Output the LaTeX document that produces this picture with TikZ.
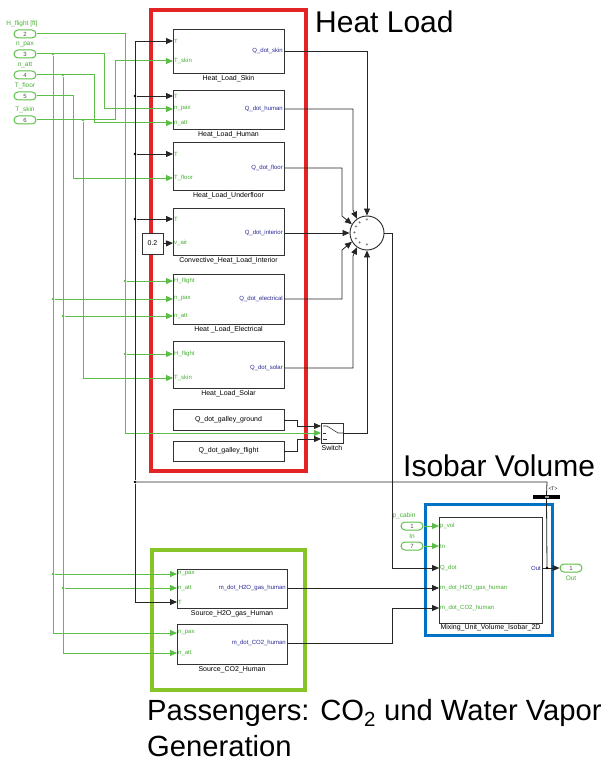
\documentclass[tikz,border=0pt]{standalone}
\usepackage{fontspec}
\setmainfont{Liberation Sans}
\usetikzlibrary{arrows.meta,calc,shadows}
\definecolor{gline}{RGB}{92,190,72}
\definecolor{gtxt}{RGB}{70,175,50}
\definecolor{btxt}{RGB}{40,40,150}
\definecolor{redf}{RGB}{226,36,36}
\definecolor{greenf}{RGB}{135,196,40}
\definecolor{bluef}{RGB}{0,114,198}
\begin{document}
\begin{tikzpicture}[x=1pt,y=-1pt,
 blk/.style={draw=black!80, line width=0.9pt, fill=white, inner sep=0, drop shadow={shadow xshift=0.8pt, shadow yshift=-0.8pt, fill=black!60, opacity=1}},
 gl/.style={draw=gline, line width=1pt},
 bl/.style={draw=black!85, line width=0.8pt},
 ga/.style={gl, -{Triangle[length=7pt,width=6pt]}},
 ba/.style={bl, -{Triangle[length=7pt,width=6pt]}},
 pin/.style={font=\fontsize{6}{6}\selectfont, text=gtxt, anchor=west, inner sep=1pt},
 pout/.style={font=\fontsize{6}{6}\selectfont, text=btxt, anchor=east, inner sep=1pt},
 lbl/.style={font=\fontsize{7}{7}\selectfont, inner sep=1pt, anchor=north},
 iplbl/.style={font=\fontsize{6.5}{6.5}\selectfont, text=gtxt, inner sep=0},
 inport/.style={draw=gline, rounded corners=4pt, line width=1pt, minimum width=22pt, minimum height=8pt, inner sep=0, font=\fontsize{6}{6}\selectfont, text=black!70},
 jdot/.style={circle, fill, inner sep=0, minimum size=2.8pt},
 big/.style={font=\fontsize{30}{34}\selectfont, inner sep=0, anchor=west},
 plus/.style={font=\fontsize{5}{5}\selectfont, inner sep=0}
]
\useasboundingbox (0,0) rectangle (604,762);

% group frames
\draw[redf, line width=4pt] (151,10) rectangle (306,471);
\draw[greenf, line width=4pt] (152,550) rectangle (305,690);
\draw[bluef, line width=3pt] (425,504) rectangle (552,635);

% titles
\node[big] (hl) at (315,22) {Heat Load};
\node[big] (iv) at (403,466) {Isobar Volume};
\node[big, font=\fontsize{29.2}{34}\selectfont] (pg) at (147,713) {Passengers: CO\textsubscript{2} und Water Vapor};
\node[big, font=\fontsize{29.2}{34}\selectfont] (gen) at (147,746) {Generation};

% inports left
\node[inport] (ip2) at (25,34) {2};
\node[iplbl] (ip2l) at (22,24) {H\_flight [ft]};
\node[inport] (ip3) at (25,54) {3};
\node[iplbl] (ip3l) at (25,44) {n\_pax};
\node[inport] (ip4) at (25,75) {4};
\node[iplbl] (ip4l) at (25,65) {n\_att};
\node[inport] (ip5) at (25,96) {5};
\node[iplbl] (ip5l) at (25,86) {T\_floor};
\node[inport] (ip6) at (25,120) {6};
\node[iplbl] (ip6l) at (25,110) {T\_skin};

% blocks
\node[blk, minimum width=111pt, minimum height=44pt] (sk) at (228.5,51) {};
\node[lbl] (skl) at (228.5,74) {Heat\_Load\_Skin};
\node[blk, minimum width=111pt, minimum height=39pt] (hu) at (228.5,109.5) {};
\node[lbl] (hul) at (228.5,130) {Heat\_Load\_Human};
\node[blk, minimum width=111pt, minimum height=48pt] (fl) at (228.5,166) {};
\node[lbl] (fll) at (228.5,191) {Heat\_Load\_Underfloor};
\node[blk, minimum width=111pt, minimum height=47pt] (it) at (228.5,231.5) {};
\node[lbl] (itl) at (228.5,256) {Convective\_Heat\_Load\_Interior};
\node[blk, minimum width=111pt, minimum height=50pt] (el) at (228.5,299) {};
\node[lbl] (ell) at (228.5,325) {Heat \_Load\_Electrical};
\node[blk, minimum width=111pt, minimum height=47pt] (so) at (228.5,364.5) {};
\node[lbl] (sol) at (228.5,389) {Heat\_Load\_Solar};
\node[blk, minimum width=111pt, minimum height=21pt, font=\fontsize{7}{7}\selectfont] (gg) at (228.5,419.5) {Q\_dot\_galley\_ground};
\node[blk, minimum width=111pt, minimum height=20pt, font=\fontsize{7}{7}\selectfont] (gf) at (228.5,451) {Q\_dot\_galley\_flight};
\node[blk, minimum width=21pt, minimum height=21pt, font=\fontsize{7}{7}\selectfont] (cst) at (152.5,243.5) {0.2};
\node[blk, minimum width=22pt, minimum height=20pt] (sw) at (332,433) {};
\node[lbl] (swl) at (332,444) {Switch};
\node[blk, minimum width=110pt, minimum height=39pt] (h2o) at (232,588.5) {};
\node[lbl] (h2ol) at (232,609) {Source\_H2O\_gas\_Human};
\node[blk, minimum width=110pt, minimum height=40pt] (co2) at (232,644) {};
\node[lbl] (co2l) at (232,665) {Source\_CO2\_Human};
\node[blk, minimum width=103pt, minimum height=106pt] (mix) at (490.5,570) {};
\node[lbl] (mixl) at (490.5,623.5) {Mixing\_Unit\_Volume\_Isobar\_2D};
\node[draw=black!85, line width=0.9pt, circle, minimum size=34pt, inner sep=0] (sum) at (367,233) {};
\node[fill=black, minimum width=27pt, minimum height=4pt, inner sep=0] (bus) at (546.5,497) {};
\node[fill=white, minimum width=4pt, minimum height=1.5pt, inner sep=0, opacity=0.6] (busm) at (546.5,497) {};
\node[font=\fontsize{5}{5}\selectfont, inner sep=0] (busl) at (553,489) {<T>};

% switch icon
\draw[black!80, line width=0.6pt] (323,426) -- (327,426) -- (338,433) -- (343,433);
\draw[black!80, line width=0.6pt] (323,439) -- (327,439) (323,433) -- (326,433);

% plus signs in sum
\foreach \a/\n in {90/p1,125/p2,150/p3,180/p4,210/p5,235/p6,270/p7}
  \node[plus] (\n) at ($(sum.center)+(\a:12.5pt)$) {+};

% port coordinates
\coordinate (skT) at (173,41); \coordinate (skTs) at (173,61); \coordinate (skO) at (284,51);
\coordinate (huT) at (173,96); \coordinate (huNp) at (173,109); \coordinate (huNa) at (173,123); \coordinate (huO) at (284,109);
\coordinate (flT) at (173,154); \coordinate (flTf) at (173,178); \coordinate (flO) at (284,168);
\coordinate (inT) at (173,219); \coordinate (inV) at (173,243); \coordinate (inO) at (284,233);
\coordinate (elH) at (173,281); \coordinate (elNp) at (173,299); \coordinate (elNa) at (173,316); \coordinate (elO) at (284,299);
\coordinate (soH) at (173,354); \coordinate (soTs) at (173,378); \coordinate (soO) at (284,368);
\coordinate (ggO) at (284,420); \coordinate (gfO) at (284,451);
\coordinate (sw1) at (321,426); \coordinate (sw2) at (321,433); \coordinate (sw3) at (321,439); \coordinate (swO) at (343,433);
\coordinate (hNp) at (177,574); \coordinate (hNa) at (177,588); \coordinate (hT) at (177,602); \coordinate (hO) at (287,588);
\coordinate (cNp) at (177,633); \coordinate (cNa) at (177,653); \coordinate (cO) at (287,643);
\coordinate (mP) at (439,526); \coordinate (mI) at (439,546); \coordinate (mQ) at (439,568); \coordinate (mH) at (439,588); \coordinate (mC) at (439,608); \coordinate (mO) at (542,568);

% port labels
\node[pin] (t1) at (skT) {T}; \node[pin] (t2) at (skTs) {T\_skin}; \node[pout] (t3) at (skO) {Q\_dot\_skin};
\node[pin] (t4) at (huT) {T}; \node[pin] (t5) at (huNp) {n\_pax}; \node[pin] (t6) at (huNa) {n\_att}; \node[pout] (t7) at (huO) {Q\_dot\_human};
\node[pin] (t8) at (flT) {T}; \node[pin] (t9) at (flTf) {T\_floor}; \node[pout] (t10) at (flO) {Q\_dot\_floor};
\node[pin] (t11) at (inT) {T}; \node[pin] (t12) at (inV) {v\_air}; \node[pout] (t13) at (inO) {Q\_dot\_interior};
\node[pin] (t14) at (elH) {H\_flight}; \node[pin] (t15) at (elNp) {n\_pax}; \node[pin] (t16) at (elNa) {n\_att}; \node[pout] (t17) at (elO) {Q\_dot\_electrical};
\node[pin] (t18) at (soH) {H\_flight}; \node[pin] (t19) at (soTs) {T\_skin}; \node[pout] (t20) at (soO) {Q\_dot\_solar};
\node[pin] (t21) at (hNp) {n\_pax}; \node[pin] (t22) at (hNa) {n\_att}; \node[pin] (t23) at (hT) {T}; \node[pout] (t24) at (hO) {m\_dot\_H2O\_gas\_human};
\node[pin] (t25) at (cNp) {n\_pax}; \node[pin] (t26) at (cNa) {n\_att}; \node[pout] (t27) at (cO) {m\_dot\_CO2\_human};
\node[pin] (t28) at (mP) {p\_vol}; \node[pin] (t29) at (mI) {In}; \node[pin] (t30) at (mQ) {Q\_dot}; \node[pin] (t31) at (mH) {m\_dot\_H2O\_gas\_human}; \node[pin] (t32) at (mC) {m\_dot\_CO2\_human}; \node[pout] (t33) at (mO) {Out};

% right-side inports/outport
\node[inport] (ipc) at (412,526) {1};
\node[iplbl] (ipcl) at (404,516) {p\_cabin};
\node[inport] (ipi) at (412,546) {7};
\node[iplbl] (ipil) at (412,536) {In};
\node[inport] (op) at (571,568) {1};
\node[iplbl] (opl) at (571,578) {Out};

% green signal lines
\draw[ga] (ip2.east) -- (125,34) -- (125,433) -- (sw2);
\node[jdot, gline] (d1) at (125,281) {}; \draw[ga] (d1) -- (elH);
\node[jdot, gline] (d2) at (125,354) {}; \draw[ga] (d2) -- (soH);

\draw[ga] (ip3.east) -- (104,54) -- (104,109) -- (huNp);
\node[jdot, gline] (d3) at (53,54) {};
\draw[ga] (d3) -- (53,633) -- (cNp);
\node[jdot, gline] (d4) at (53,299) {}; \draw[ga] (d4) -- (elNp);
\node[jdot, gline] (d5) at (53,574) {}; \draw[ga] (d5) -- (hNp);

\draw[ga] (ip4.east) -- (94,75) -- (94,123) -- (huNa);
\node[jdot, gline] (d6) at (63,75) {};
\draw[ga] (d6) -- (63,653) -- (cNa);
\node[jdot, gline] (d7) at (63,316) {}; \draw[ga] (d7) -- (elNa);
\node[jdot, gline] (d8) at (63,588) {}; \draw[ga] (d8) -- (hNa);

\draw[ga] (ip5.east) -- (73,96) -- (73,178) -- (flTf);

\draw[ga] (ip6.east) -- (115,120) -- (115,61) -- (skTs);
\node[jdot, gline] (d9) at (83,120) {};
\draw[ga] (d9) -- (83,378) -- (soTs);

\draw[ga] (ipc.east) -- (mP);
\draw[ga] (ipi.east) -- (mI);

% black T bus line
\coordinate (jo) at (547,568);
\draw[bl] (jo) -- (bus.south);
\draw[bl] (bus.north) -- (547,482) -- (135,482);
\node[jdot, black] (d10) at (135,482) {};
\draw[ba] (d10) -- (135,41) -- (skT);
\draw[ba] (d10) -- (135,602) -- (hT);
\node[jdot, black] (d11) at (135,96) {}; \draw[ba] (d11) -- (huT);
\node[jdot, black] (d12) at (135,154) {}; \draw[ba] (d12) -- (flT);
\node[jdot, black] (d13) at (135,219) {}; \draw[ba] (d13) -- (inT);
\draw[ba] (cst.east) -- (inV);

% sum inputs
\draw[ba] (skO) -- (367,51) -- (sum.north);
\draw[ba] (huO) -- (353,109) -- (353,210) -- (sum.125);
\draw[ba] (flO) -- (342,168) -- (342,216) -- (sum.150);
\draw[ba] (inO) -- (sum.west);
\draw[ba] (elO) -- (342,299) -- (342,250) -- (sum.210);
\draw[ba] (soO) -- (353,368) -- (353,256) -- (sum.235);
\draw[ba] (swO) -- (367,433) -- (sum.south);

% galley to switch
\draw[ba] (ggO) -- (297,420) -- (297,426) -- (sw1);
\draw[ba] (gfO) -- (297,451) -- (297,439) -- (sw3);

% sum output to mixing
\draw[ba] (sum.east) -- (392,233) -- (392,568) -- (mQ);
\draw[ba] (hO) -- (mH);
\draw[ba] (cO) -- (392,643) -- (392,608) -- (mC);
\draw[ba] (mO) -- (op.west);
\node[jdot, black] (d14) at (jo) {};
\end{tikzpicture}
\end{document}
